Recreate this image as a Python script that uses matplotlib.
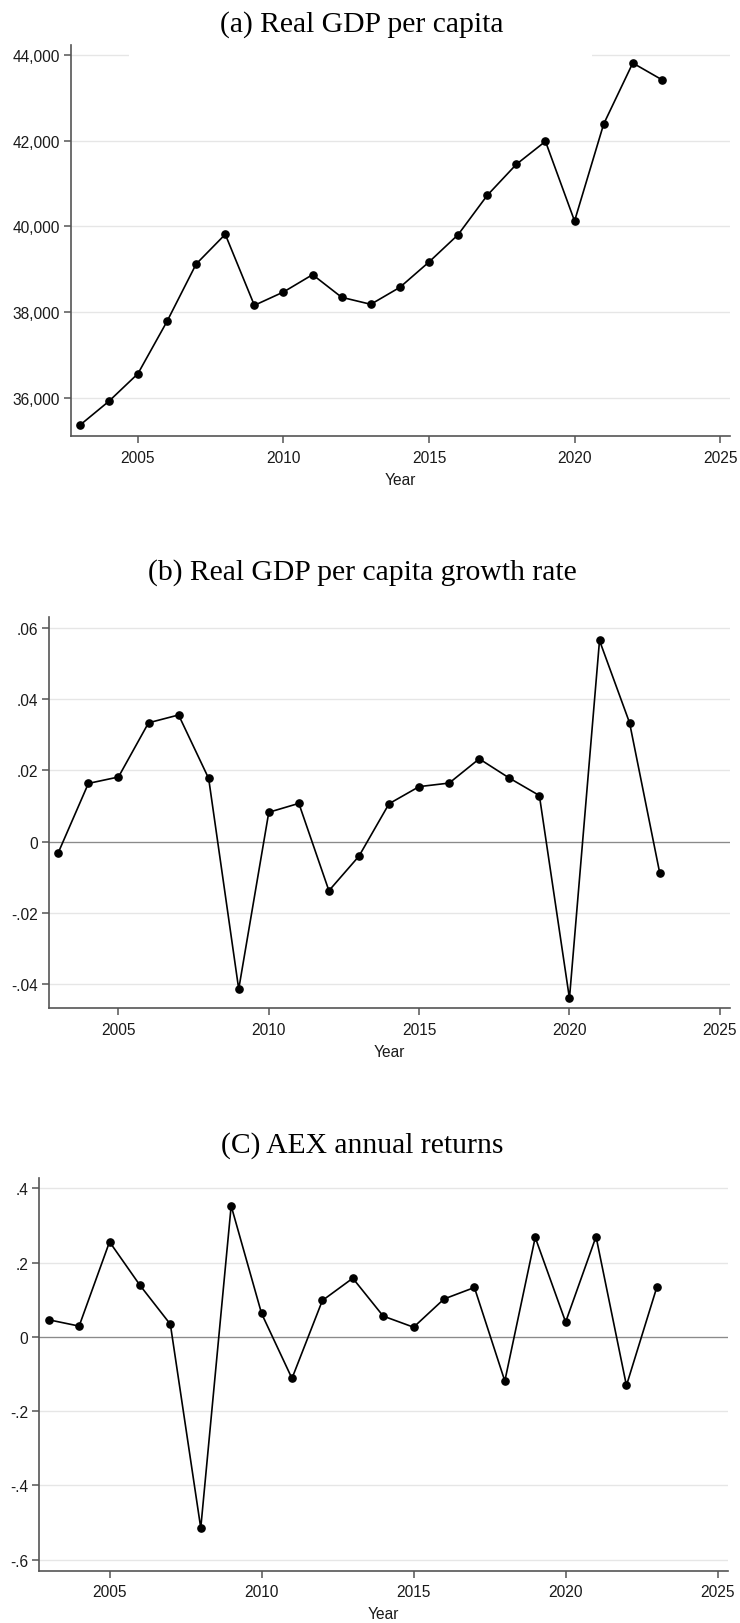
import matplotlib
matplotlib.use("Agg")
import matplotlib.pyplot as plt
from matplotlib.patches import Rectangle
from matplotlib.ticker import FixedLocator, FuncFormatter

years = list(range(2003, 2024))

gdp_per_capita = [35363, 35922, 36567, 37786, 39122, 39814, 38159, 38470, 38874,
                  38346, 38183, 38579, 39169, 39806, 40722, 41445, 41981, 40124,
                  42384, 43806, 43417]

gdp_growth = [-0.0031, 0.0163, 0.0181, 0.0333, 0.0355, 0.0177, -0.0414, 0.0082,
              0.0107, -0.0138, -0.0041, 0.0106, 0.0154, 0.0164, 0.0232, 0.0178,
              0.0129, -0.0440, 0.0564, 0.0333, -0.0087]

aex_returns = [0.046, 0.029, 0.256, 0.139, 0.034, -0.515, 0.353, 0.063, -0.112,
               0.098, 0.158, 0.056, 0.026, 0.102, 0.133, -0.119, 0.268, 0.040,
               0.270, -0.131, 0.134]

titles = ["(a) Real GDP per capita",
          "(b) Real GDP per capita growth rate",
          "(C) AEX annual returns"]
x_ticks = [2005, 2010, 2015, 2020, 2025]
y_ticks_a = [36000, 38000, 40000, 42000, 44000]
y_ticks_b = [-0.04, -0.02, 0.0, 0.02, 0.04, 0.06]
y_ticks_c = [-0.6, -0.4, -0.2, 0.0, 0.2, 0.4]
x_label = "Year"

W, H = 740, 1624
fig = plt.figure(figsize=(W / 100, H / 100), dpi=100)
fig.patch.set_facecolor("white")

SANS = ["Liberation Sans", "DejaVu Sans"]
SERIF = ["Liberation Serif", "DejaVu Serif"]
SPINE = "#555555"


def px_axes(left, top, right, bottom):
    return fig.add_axes([left / W, 1 - bottom / H, (right - left) / W, (bottom - top) / H])


def fmt_comma(v, _):
    return f"{int(round(v)):,}"


def fmt_decimal(v, _):
    if abs(v) < 1e-12:
        return "0"
    s = f"{v:.2f}".rstrip("0")
    return s.replace("0.", ".", 1)


def style(ax, yticks, yfmt, ylim):
    ax.set_xlim(2002.69, 2025.34)
    ax.set_ylim(*ylim)
    ax.xaxis.set_major_locator(FixedLocator(x_ticks))
    ax.yaxis.set_major_locator(FixedLocator(yticks))
    ax.yaxis.set_major_formatter(FuncFormatter(yfmt))
    for side in ("top", "right"):
        ax.spines[side].set_visible(False)
    for side in ("left", "bottom"):
        ax.spines[side].set_color(SPINE)
        ax.spines[side].set_linewidth(1.2)
    ax.tick_params(axis="both", direction="out", length=4.8, width=1.1, color=SPINE,
                   labelsize=11.2, labelcolor="#1a1a1a")
    ax.tick_params(axis="x", pad=5)
    ax.tick_params(axis="y", pad=3)
    for lab in ax.get_xticklabels() + ax.get_yticklabels():
        lab.set_fontfamily(SANS)
    ax.set_axisbelow(True)
    ax.yaxis.grid(True, color="#e6e6e6", linewidth=1.0)
    ax.xaxis.grid(False)
    ax.set_xlabel(x_label, fontsize=11.2, family=SANS, color="#1a1a1a", labelpad=5)


def draw_series(ax, values):
    ax.plot(years, values, color="black", linewidth=1.2, marker="o",
            markersize=5.2, markerfacecolor="black", markeredgecolor="black",
            zorder=3, clip_on=False)


# Panel (a)
ax_a = px_axes(70.7, 46, 730, 437.3)
style(ax_a, y_ticks_a, fmt_comma, (35107, 44226))
draw_series(ax_a, gdp_per_capita)
ax_a.add_patch(Rectangle((129 / W, 1 - 62 / H), (592 - 129) / W, 20 / H,
                         transform=fig.transFigure, facecolor="white",
                         edgecolor="none", zorder=1, clip_on=False))

# Panel (b)
ax_b = px_axes(49, 618.3, 730, 1009)
style(ax_b, y_ticks_b, fmt_decimal, (-0.0467, 0.0629))
ax_b.axhline(0, color="#8a8a8a", linewidth=0.9, zorder=2)
draw_series(ax_b, gdp_growth)

# Panel (c)
ax_c = px_axes(39.3, 1179, 728, 1571.7)
style(ax_c, y_ticks_c, fmt_decimal, (-0.630, 0.428))
ax_c.axhline(0, color="#8a8a8a", linewidth=0.9, zorder=2)
draw_series(ax_c, aex_returns)

for title, base in zip(titles, [32, 580, 1153]):
    fig.text(362 / W, 1 - base / H, title, ha="center", va="baseline",
             fontsize=21.3, family=SERIF, color="black")

fig.savefig("out.png", dpi=100, facecolor="white")
